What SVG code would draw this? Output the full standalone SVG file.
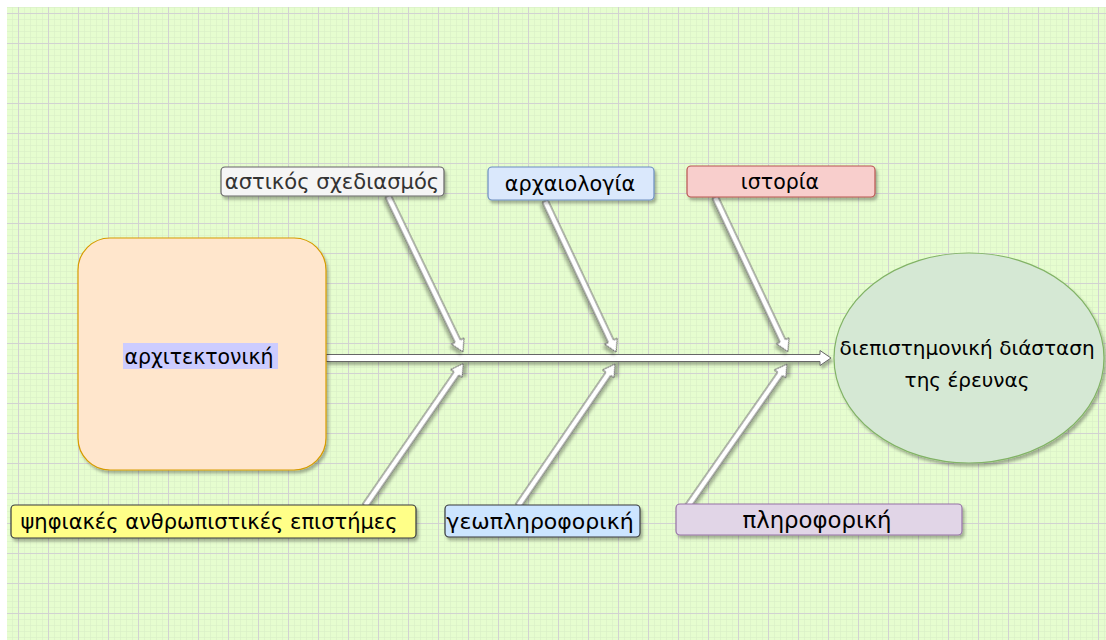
<svg xmlns="http://www.w3.org/2000/svg" width="1106" height="640" viewBox="0 0 1106 640">
<defs>
<pattern id="minor" x="18" y="13" width="6" height="6" patternUnits="userSpaceOnUse">
<path d="M0 0V6M0 0H6" fill="none" stroke="#d6ecc6" stroke-width="1"/>
</pattern>
<pattern id="major" x="18" y="13" width="30" height="30" patternUnits="userSpaceOnUse">
<path d="M0.5 0V30M0 0.5H30" fill="none" stroke="#d2d2d2" stroke-width="1"/>
</pattern>
<filter id="sh" x="-20%" y="-20%" width="140%" height="150%">
<feDropShadow dx="2" dy="3" stdDeviation="1.5" flood-color="#000" flood-opacity="0.3"/>
</filter>
</defs>
<style>
text{font-family:"DejaVu Sans","Liberation Sans",Arial,sans-serif;text-anchor:middle}
.lbl{font-size:20px;fill:#000}
.arr{fill:#ffffff;stroke:#666666;stroke-width:1;filter:url(#sh)}
.box{stroke-width:1.2;filter:url(#sh)}
</style>
<rect width="1106" height="640" fill="#ffffff"/>
<rect x="7" y="7" width="1099" height="633" fill="#e6fdcf"/>
<rect x="7" y="7" width="1099" height="633" fill="url(#minor)"/>
<rect x="7" y="7" width="1099" height="633" fill="url(#major)"/>

<g id="connectors">
<polygon class="arr" points="326,354.5 820,354.5 820,350.5 831,358 820,365.5 820,361.5 326,361.5"/>
<g transform="translate(388,196) rotate(64.33)"><polygon class="arr" points="0,-3 161,-3 161,-7 173,0 161,7 161,3 0,3"/></g>
<g transform="translate(545,201) rotate(64.82)"><polygon class="arr" points="0,-3 155,-3 155,-7 167,0 155,7 155,3 0,3"/></g>
<g transform="translate(715,197) rotate(64.78)"><polygon class="arr" points="0,-3 159,-3 159,-7 171,0 159,7 159,3 0,3"/></g>
<g transform="translate(365,506) rotate(-55.39)"><polygon class="arr" points="0,-3 161,-3 161,-7 173,0 161,7 161,3 0,3"/></g>
<g transform="translate(518,506) rotate(-55.66)"><polygon class="arr" points="0,-3 160,-3 160,-7 172,0 160,7 160,3 0,3"/></g>
<g transform="translate(688,506) rotate(-55.11)"><polygon class="arr" points="0,-3 161,-3 161,-7 173,0 161,7 161,3 0,3"/></g>
</g>

<g id="architecture">
<rect class="box" x="78" y="238" width="248" height="232" rx="32" fill="#ffe6cc" stroke="#d79b00"/>
<rect x="123" y="343" width="155" height="26" fill="#ccccff"/>
<text class="lbl" x="199" y="364" style="font-size:20.5px">αρχιτεκτονική</text>
</g>

<g id="result">
<ellipse class="box" cx="969" cy="358" rx="135" ry="105" fill="#d5e8d4" stroke="#82b366"/>
<text class="lbl" x="967" y="355">διεπιστημονική διάσταση</text>
<text class="lbl" x="967" y="387">της έρευνας</text>
</g>

<g id="urban">
<rect class="box" x="221" y="167" width="223" height="29" rx="4" fill="#f5f5f5" stroke="#666666"/>
<text class="lbl" x="332" y="189" style="fill:#333333;font-size:21.1px">αστικός σχεδιασμός</text>
</g>

<g id="archaeology">
<rect class="box" x="488" y="167" width="166" height="33" rx="4" fill="#dae8fc" stroke="#6c8ebf"/>
<text class="lbl" x="570" y="191" style="font-size:20.8px">αρχαιολογία</text>
</g>

<g id="history">
<rect class="box" x="687" y="166" width="188" height="31" rx="4" fill="#f8cecc" stroke="#b85450"/>
<text class="lbl" x="780" y="189" style="font-size:20.5px">ιστορία</text>
</g>

<g id="digital-humanities">
<rect class="box" x="11" y="505" width="405" height="33" rx="4" fill="#ffff88" stroke="#36393d"/>
<text class="lbl" x="209" y="529" style="font-size:21px">ψηφιακές ανθρωπιστικές επιστήμες</text>
</g>

<g id="geoinformatics">
<rect class="box" x="445" y="505" width="195" height="32" rx="4" fill="#cce5ff" stroke="#36393d"/>
<text class="lbl" x="540" y="529" style="font-size:22px">γεωπληροφορική</text>
</g>

<g id="informatics">
<rect class="box" x="676" y="504" width="286" height="31" rx="4" fill="#e1d5e7" stroke="#9673a6"/>
<text class="lbl" x="817" y="528" style="font-size:22.8px">πληροφορική</text>
</g>
</svg>
